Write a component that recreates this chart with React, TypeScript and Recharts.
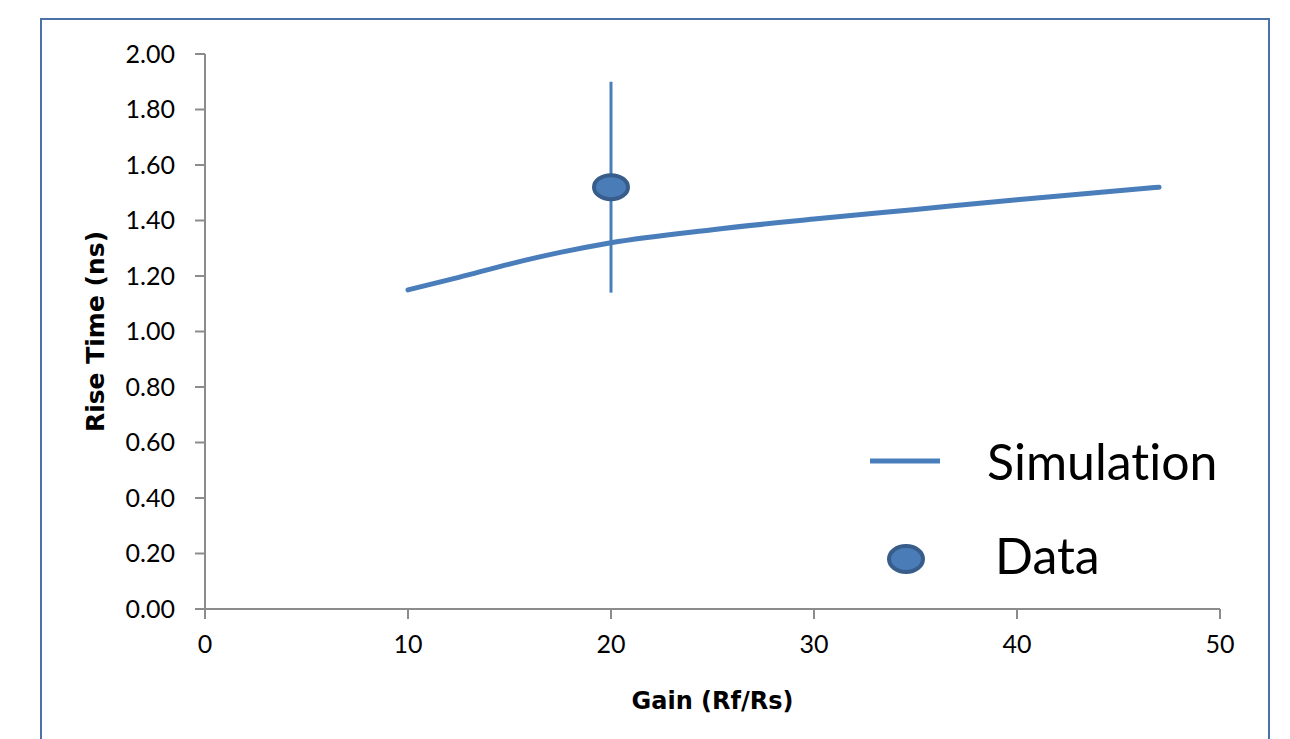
import React from "react"
import {
  ComposedChart,
  Line,
  Scatter,
  ErrorBar,
  XAxis,
  YAxis,
} from "recharts"

// Simulation curve
const simGain = [10, 12.5, 15, 17.5, 20, 25, 30, 35, 40, 47]
const simRise = [1.15, 1.195, 1.243, 1.285, 1.32, 1.367, 1.405, 1.44, 1.475, 1.52]

// Measured point with its error
const dataGain = [20]
const dataRise = [1.52]
const dataErr = [0.38]

const xTicks = [0, 10, 20, 30, 40, 50]
const yTicks = [0, 0.2, 0.4, 0.6, 0.8, 1.0, 1.2, 1.4, 1.6, 1.8, 2.0]

const legendNames = ["Simulation", "Data"]

const simData = simGain.map((g, i) => ({ gain: g, sim: simRise[i] }))
const pointData = dataGain.map((g, i) => ({ gain: g, rise: dataRise[i], err: dataErr[i] }))

const BLUE = "#4a7ebb"
const DARK = "#385d8a"
const tickStyle = { fontSize: 25, fill: "#000", fontFamily: "Lato" }
const labelFont = "'DejaVu Sans', sans-serif"

const Ellipse = (props: any) => {
  const { cx, cy } = props
  return <ellipse cx={cx} cy={cy} rx={17} ry={12} fill="#4a7cb8" stroke={DARK} strokeWidth={4} />
}

// legend sits inside the plot, lower right, like the original
const LegendBox = () => (
  <div style={{ position: "absolute", left: 860, top: 430, width: 420, height: 160, fontFamily: "Lato", fontVariantLigatures: "none" }}>
    <svg width={400} height={160} style={{ position: "absolute", left: 0, top: 0 }}>
      <line x1={10} y1={31} x2={80} y2={31} stroke={BLUE} strokeWidth={5} />
      <ellipse cx={46} cy={129} rx={17} ry={13} fill="#4a7cb8" stroke={DARK} strokeWidth={4} />
    </svg>
    <div style={{ position: "absolute", left: 127, top: 1, fontSize: 50, lineHeight: "60px", color: "#000" }}>
      {legendNames[0]}
    </div>
    <div style={{ position: "absolute", left: 135, top: 95, fontSize: 50, lineHeight: "60px", color: "#000" }}>
      {legendNames[1]}
    </div>
  </div>
)

export default function App() {
  return (
    <div style={{ position: "absolute", left: 0, top: 0, width: 1290, height: 739, overflow: "hidden", background: "#fff" }}>
      <div
        style={{
          position: "absolute",
          left: 40,
          top: 18,
          width: 1226,
          height: 800,
          border: "2px solid #4a72a8",
        }}
      />
      <div style={{ position: "absolute", left: 0, top: 0 }}>
        <ComposedChart width={1290} height={739} margin={{ top: 54, right: 70, bottom: 100, left: 145 }}>
          <XAxis
            type="number"
            dataKey="gain"
            domain={[0, 50]}
            ticks={xTicks}
            interval={0}
            height={30}
            stroke="#8c8c8c"
            strokeWidth={2}
            tickSize={10}
            tickMargin={16}
            tick={tickStyle}
            label={{
              value: "Gain (Rf/Rs)",
              position: "insideBottom",
              offset: -70,
              style: { fontSize: 24, fontWeight: "bold", fill: "#000", fontFamily: labelFont },
            }}
          />
          <YAxis
            type="number"
            domain={[0, 2]}
            ticks={yTicks}
            interval={0}
            width={60}
            stroke="#8c8c8c"
            strokeWidth={2}
            tickSize={10}
            tickMargin={20}
            tick={tickStyle}
            tickFormatter={(v: number) => v.toFixed(2)}
            label={{
              value: "Rise Time (ns)",
              angle: -90,
              position: "insideLeft",
              offset: -50,
              style: { fontSize: 25, fontWeight: "bold", fill: "#000", fontFamily: labelFont, textAnchor: "middle" },
            }}
          />
          <Line
            data={simData}
            dataKey="sim"
            type="monotone"
            stroke={BLUE}
            strokeWidth={5}
            strokeLinecap="round"
            dot={false}
            isAnimationActive={false}
          />
          <Scatter data={pointData} dataKey="rise" shape={<Ellipse />} isAnimationActive={false}>
            <ErrorBar dataKey="err" direction="y" width={0} stroke={BLUE} strokeWidth={3} isAnimationActive={false} />
          </Scatter>
        </ComposedChart>
      </div>
      <LegendBox />
    </div>
  )
}
